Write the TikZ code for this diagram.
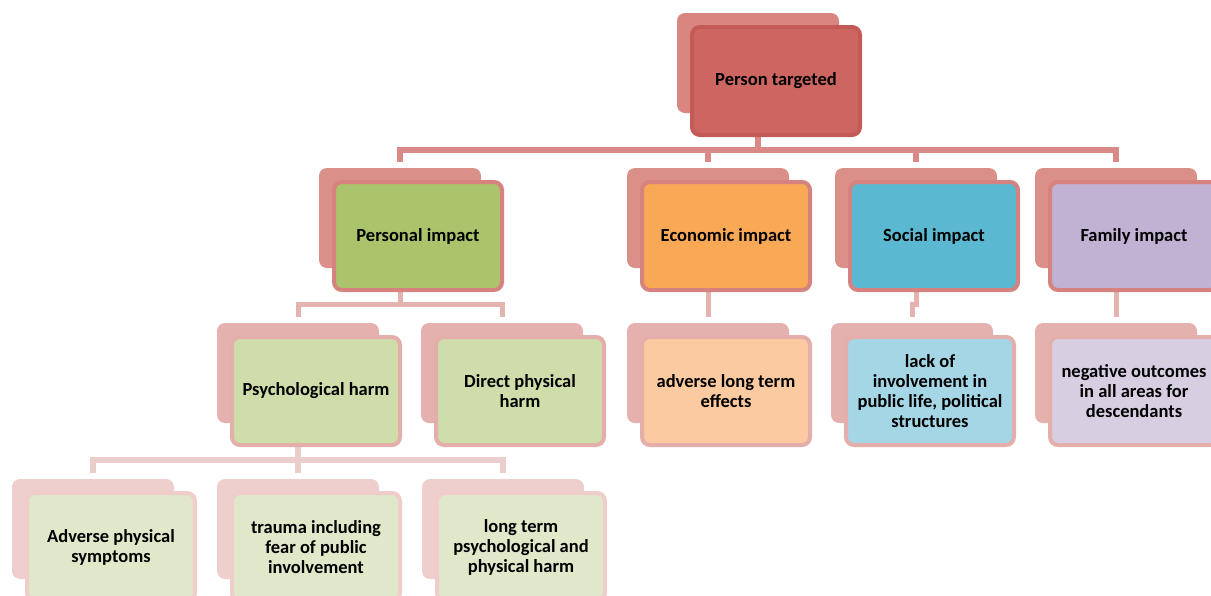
\documentclass[tikz,border=0pt]{standalone}
\usepackage{fontspec}
\setmainfont{Carlito}
\usetikzlibrary{backgrounds}

% palette
\definecolor{topback}{HTML}{DA8680}
\definecolor{topfill}{HTML}{CD6660}
\definecolor{topborder}{HTML}{C45A55}
\definecolor{oneback}{HTML}{DA8F89}
\definecolor{oneborder}{HTML}{D6827E}
\definecolor{oneline}{HTML}{D98A86}
\definecolor{twoback}{HTML}{E5B1AE}
\definecolor{twoborder}{HTML}{E4AEAB}
\definecolor{twoline}{HTML}{E4B2AF}
\definecolor{threeback}{HTML}{EFCFCD}
\definecolor{threeborder}{HTML}{EFCDCB}
\definecolor{threeline}{HTML}{EBCDCB}
\definecolor{greenA}{HTML}{ABC46B}
\definecolor{orangeA}{HTML}{F9A856}
\definecolor{blueA}{HTML}{5BB8D1}
\definecolor{purpleA}{HTML}{C1B1D3}
\definecolor{greenB}{HTML}{CEDDAA}
\definecolor{orangeB}{HTML}{FBCAA0}
\definecolor{blueB}{HTML}{A5D6E5}
\definecolor{purpleB}{HTML}{D8CEE2}
\definecolor{greenC}{HTML}{E0E8C9}

\tikzset{
  backbox/.style={fill=#1, rounded corners=8pt, minimum width=162pt,
    minimum height=100pt, inner sep=0pt, outer sep=0pt},
  frontbox/.style 2 args={fill=#1, draw=#2, line width=4pt, rounded corners=8pt,
    minimum width=168pt, minimum height=108pt, inner sep=0pt, outer sep=0pt,
    align=center, text=black, font=\bfseries\fontsize{18.5}{20}\selectfont},
  conn/.style 2 args={draw=#1, line width=#2}
}

% a stacked pair: shadow card behind, labelled card in front
% #1 name, #2 left, #3 top (outer edge of front card), #4 shadow colour,
% #5 fill, #6 border, #7 label
\newcommand\tierpair[7]{%
  \node[backbox=#4, anchor=north west] (#1-b) at ({#2-13},{#3-12}) {};
  \node[frontbox={#5}{#6}, anchor=north west] (#1) at ({#2+2},{#3+2}) {#7};
}

\begin{document}
\begin{tikzpicture}[x=1pt,y=-1pt]
\useasboundingbox (0,0) rectangle (1211,595);
\clip (0,0) rectangle (1211,595);

% root
\tierpair{pt}{690}{25}{topback}{topfill}{topborder}{Person targeted}

% first tier
\tierpair{pers}{332}{180}{oneback}{greenA}{oneborder}{Personal impact}
\tierpair{econ}{640}{180}{oneback}{orangeA}{oneborder}{Economic impact}
\tierpair{soc}{848}{180}{oneback}{blueA}{oneborder}{Social impact}
\tierpair{fam}{1048}{180}{oneback}{purpleA}{oneborder}{Family impact}

% second tier
\tierpair{psy}{230}{335}{twoback}{greenB}{twoborder}{Psychological harm}
\tierpair{dir}{434}{335}{twoback}{greenB}{twoborder}{Direct physical\\harm}
\tierpair{econc}{640}{335}{twoback}{orangeB}{twoborder}{adverse long term\\effects}
\tierpair{socc}{844}{335}{twoback}{blueB}{twoborder}{lack of\\involvement in\\public life, political\\structures}
\tierpair{famc}{1048}{335}{twoback}{purpleB}{twoborder}{negative outcomes\\in all areas for\\descendants}

% third tier
\tierpair{adv}{25}{491}{threeback}{greenC}{threeborder}{Adverse physical\\symptoms}
\tierpair{tra}{230}{491}{threeback}{greenC}{threeborder}{trauma including\\fear of public\\involvement}
\tierpair{lng}{435}{491}{threeback}{greenC}{threeborder}{long term\\psychological and\\physical harm}

% elbow connectors, behind the cards
\coordinate (bar1) at (0,150);  \coordinate (drop1) at (0,162);
\coordinate (bar2) at (0,304);  \coordinate (drop2) at (0,317);
\coordinate (bar3) at (0,460);  \coordinate (drop3) at (0,473);

\begin{pgfonlayer}{background}
  \foreach \c in {pers,econ,soc,fam}
    \draw[conn={oneline}{6pt}] (pt-b |- pt.south) |- (\c-b |- bar1) -- (\c-b |- drop1);
  \foreach \p/\c in {pers/psy,pers/dir,econ/econc,soc/socc,fam/famc}
    \draw[conn={twoline}{5pt}] (\p-b |- \p.south) |- (\c-b |- bar2) -- (\c-b |- drop2);
  \foreach \c in {adv,tra,lng}
    \draw[conn={threeline}{5.5pt}] (psy-b |- psy.south) |- (\c-b |- bar3) -- (\c-b |- drop3);
\end{pgfonlayer}
\end{tikzpicture}
\end{document}
